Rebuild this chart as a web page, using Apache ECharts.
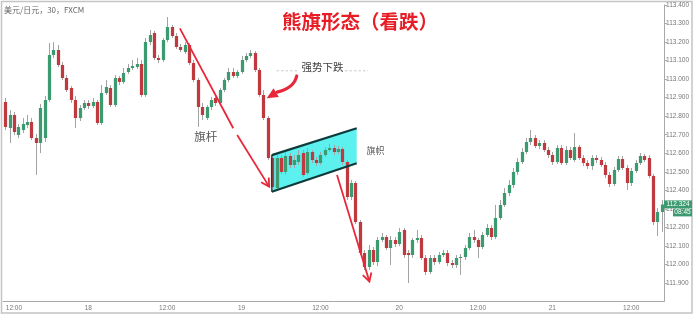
<!DOCTYPE html>
<html><head><meta charset="utf-8">
<script src="https://cdn.jsdelivr.net/npm/echarts@6/dist/echarts.min.js"></script>
<style>html,body{margin:0;padding:0;background:#fff}#c{width:696px;height:315px}</style>
</head><body><div id="c"></div>
<script>
const openPrices=[
112.877,112.736,112.806,112.698,112.725,112.752,112.769,112.682,112.655,112.682,
112.887,113.130,113.157,113.076,113.006,112.952,112.887,112.790,112.844,112.871,
112.855,112.877,112.763,112.925,112.952,112.860,113.006,112.984,113.038,113.060,
113.065,113.082,112.914,113.200,113.249,113.114,113.103,113.211,113.281,113.233,
113.173,113.146,113.184,113.087,112.995,112.850,112.790,112.850,112.898,112.871,
112.941,112.995,113.038,113.017,113.038,113.103,113.125,113.141,113.049,112.914,
112.790,112.574,112.412,112.574,112.499,112.585,112.537,112.553,112.601,112.493,
112.607,112.564,112.547,112.590,112.617,112.628,112.607,112.623,112.553,112.364,
112.439,112.229,112.062,111.986,112.078,112.013,112.132,112.148,112.089,112.132,
112.110,112.186,112.062,112.051,112.132,112.143,112.035,111.959,112.035,112.013,
112.051,112.062,112.008,111.997,112.035,112.040,112.089,112.148,112.132,112.094,
112.159,112.197,112.148,112.251,112.321,112.385,112.429,112.499,112.553,112.607,
112.661,112.682,112.639,112.655,112.617,112.590,112.553,112.628,112.547,112.617,
112.564,112.634,112.574,112.547,112.531,112.574,112.564,112.537,112.483,112.434,
112.510,112.569,112.520,112.439,112.504,112.547,112.585,112.574,112.477,112.229,112.283];
const closePrices=[
112.742,112.806,112.715,112.742,112.758,112.769,112.682,112.655,112.844,112.887,
113.130,113.157,113.076,113.006,112.941,112.887,112.790,112.844,112.871,112.855,
112.877,112.763,112.925,112.958,112.860,113.006,112.984,113.033,113.060,113.071,
113.082,112.914,113.200,113.238,113.114,113.103,113.211,113.281,113.233,113.173,
113.157,113.184,113.087,112.995,112.850,112.806,112.850,112.887,112.871,112.941,
112.995,113.038,113.017,113.038,113.103,113.125,113.141,113.049,112.914,112.790,
112.574,112.418,112.574,112.499,112.585,112.537,112.564,112.590,112.483,112.607,
112.564,112.547,112.590,112.617,112.628,112.607,112.623,112.553,112.364,112.439,
112.229,112.062,111.986,112.078,112.013,112.132,112.148,112.089,112.132,112.110,
112.175,112.051,112.051,112.132,112.143,112.035,111.959,112.035,112.013,112.051,
112.062,112.008,111.997,112.035,112.040,112.089,112.148,112.132,112.094,112.159,
112.197,112.148,112.251,112.321,112.385,112.429,112.499,112.553,112.607,112.661,
112.682,112.639,112.655,112.617,112.590,112.553,112.628,112.547,112.617,112.574,
112.634,112.574,112.547,112.531,112.574,112.564,112.537,112.483,112.434,112.510,
112.569,112.520,112.439,112.504,112.547,112.585,112.564,112.477,112.229,112.283,112.324];
const lowPrices=[
112.725,112.655,112.698,112.682,112.709,112.736,112.671,112.483,112.601,112.661,
112.877,113.114,113.065,112.995,112.930,112.871,112.736,112.774,112.833,112.839,
112.844,112.752,112.752,112.914,112.850,112.850,112.968,112.974,113.028,113.049,
113.055,112.904,112.904,113.184,113.103,113.087,113.092,113.200,113.222,113.163,
113.146,113.136,113.076,112.984,112.742,112.779,112.779,112.833,112.855,112.860,
112.930,112.984,113.006,113.006,113.028,113.092,113.114,113.038,112.904,112.779,
112.564,112.402,112.402,112.488,112.483,112.520,112.520,112.537,112.472,112.483,
112.547,112.531,112.537,112.580,112.607,112.590,112.596,112.537,112.348,112.348,
112.218,112.051,111.970,111.970,111.997,111.991,112.121,112.078,111.997,112.094,
112.099,112.035,111.900,112.035,112.116,112.024,111.943,111.948,111.997,112.002,
112.040,111.991,111.981,111.981,111.943,112.024,112.078,112.116,112.035,112.083,
112.148,112.132,112.137,112.240,112.310,112.369,112.412,112.483,112.542,112.596,
112.644,112.628,112.623,112.607,112.574,112.537,112.542,112.537,112.537,112.564,
112.553,112.564,112.531,112.515,112.510,112.547,112.526,112.466,112.418,112.423,
112.499,112.510,112.402,112.423,112.493,112.537,112.553,112.466,112.213,112.153,112.175];
const highPrices=[
112.898,112.833,112.823,112.758,112.790,112.806,112.790,112.704,112.866,112.909,
113.195,113.200,113.184,113.092,113.022,112.963,112.909,112.860,112.887,112.887,
112.898,112.887,112.968,112.995,112.968,113.022,113.017,113.060,113.082,113.103,
113.114,113.103,113.222,113.265,113.260,113.130,113.222,113.335,113.292,113.249,
113.190,113.200,113.195,113.103,113.006,112.871,112.860,112.904,112.914,112.952,
113.006,113.060,113.060,113.049,113.125,113.141,113.157,113.152,113.060,112.941,
112.801,112.585,112.590,112.590,112.607,112.601,112.590,112.617,112.617,112.628,
112.617,112.580,112.607,112.634,112.650,112.644,112.639,112.634,112.564,112.456,
112.450,112.240,112.078,112.105,112.094,112.148,112.170,112.159,112.153,112.148,
112.197,112.197,112.078,112.143,112.186,112.159,112.051,112.051,112.051,112.067,
112.078,112.078,112.024,112.051,112.056,112.105,112.170,112.186,112.143,112.175,
112.218,112.213,112.321,112.348,112.412,112.456,112.520,112.574,112.628,112.682,
112.725,112.698,112.671,112.671,112.634,112.607,112.644,112.644,112.639,112.634,
112.709,112.644,112.590,112.564,112.590,112.590,112.580,112.553,112.499,112.526,
112.585,112.585,112.537,112.520,112.564,112.601,112.596,112.590,112.488,112.304,112.348];
const categories = openPrices.map((_, i) => String(i + 1));
const tickIndex = [2, 19, 37, 54, 72, 90, 108, 125, 143];
const tickLabels = ['12:00', '18', '12:00', '19', '12:00', '20', '12:00', '21', '12:00'];
const lastPrice = 112.324, lastTime = '08:45';

// annotation anchors in (bar index, price)
const poleArrowA = [[39.9, 113.274], [52.1, 112.735]];
const poleArrowB = [[53.0, 112.698], [60.3, 112.420]];
const dropArrow = [[75.8, 112.483], [83.2, 111.908]];
const flagBox = [[60.9, 112.590], [80.3, 112.735], [80.3, 112.546], [60.9, 112.392]];
const curveArrow = [[66.6, 113.017], [66.0, 112.952], [62.1, 112.930], [59.75, 112.897]];
const dashLeft = [[62.0, 113.045], [66.9, 113.045]];
const dashRight = [[76.6, 113.045], [82.9, 113.045]];
const strongText = [72.5, 113.065];
const poleText = [45.8, 112.690];
const flagText = [84.6, 112.616];

const UP = '#3b9a6f', DOWN = '#bf3a3e', WICK = '#a3a3a3', RED = '#e8283a';
const FONT = '"Noto Sans CJK SC", "Noto Sans", sans-serif';

const chart = echarts.init(document.getElementById('c'), null, {renderer: 'canvas'});
const data = categories.map((c, i) => [i, openPrices[i], closePrices[i], lowPrices[i], highPrices[i]]);

function renderCandle(params, api) {
  const i = api.value(0);
  const o = api.coord([i, api.value(1)]), c = api.coord([i, api.value(2)]);
  const l = api.coord([i, api.value(3)]), h = api.coord([i, api.value(4)]);
  const w = api.size([1, 0])[0] * 0.74;
  const up = api.value(2) >= api.value(1);
  const top = Math.min(o[1], c[1]);
  const bh = Math.max(Math.abs(o[1] - c[1]), 1);
  const xc = Math.round(o[0]) + 0.5;
  return {type: 'group', children: [
    {type: 'line', shape: {x1: xc, y1: h[1], x2: xc, y2: l[1]}, style: {stroke: WICK, lineWidth: 1}},
    {type: 'rect', shape: {x: xc - w / 2, y: top, width: w, height: bh}, style: {fill: up ? UP : DOWN}}
  ]};
}

chart.setOption({
  animation: false,
  grid: {left: 3, right: 32, top: 5, bottom: 13.5},
  xAxis: {
    type: 'category', data: categories, boundaryGap: true,
    axisLine: {lineStyle: {color: '#a8a8a8'}},
    axisTick: {interval: (i) => tickIndex.includes(i), alignWithLabel: true, length: 3, lineStyle: {color: '#aaa'}},
    axisLabel: {interval: (i) => tickIndex.includes(i), formatter: (v, i) => tickLabels[tickIndex.indexOf(i)] || '',
      fontSize: 6.5, color: '#777', margin: 3, fontFamily: 'Arial'},
    splitLine: {show: false}
  },
  yAxis: {
    type: 'value', position: 'right', min: 111.8, max: 113.4, interval: 0.1,
    axisLine: {show: true, lineStyle: {color: '#a8a8a8'}},
    axisTick: {show: true, length: 3, lineStyle: {color: '#aaa'}},
    axisLabel: {fontSize: 6.5, color: '#777', margin: 2, fontFamily: 'Arial',
      formatter: (v) => v.toFixed(3), showMinLabel: false},
    splitLine: {show: false}
  },
  series: [{type: 'custom', renderItem: renderCandle, data: data, encode: {x: 0, y: [1, 2, 3, 4]}, z: 5, clip: true}]
});

// annotations positioned through the chart's own scales
const a0 = chart.convertToPixel({xAxisIndex: 0, yAxisIndex: 0}, [0, 112]);
const a1 = chart.convertToPixel({xAxisIndex: 0, yAxisIndex: 0}, [1, 112]);
const dx = a1[0] - a0[0];
const X = (i) => a0[0] + i * dx;
const Y = (v) => chart.convertToPixel({xAxisIndex: 0, yAxisIndex: 0}, [0, v])[1];
const P = (pt) => [X(pt[0]), Y(pt[1])];

function vHead(tip, from, len, half, color, width) {
  const vx = tip[0] - from[0], vy = tip[1] - from[1];
  const d = Math.hypot(vx, vy), ux = vx / d, uy = vy / d;
  const bx = tip[0] - ux * len, by = tip[1] - uy * len;
  return {type: 'polyline', z: 100, shape: {points: [[bx - uy * half, by + ux * half], tip, [bx + uy * half, by - ux * half]]},
    style: {stroke: color, lineWidth: width, fill: null}};
}

const els = [];
// frame
els.push({type: 'rect', z: 0, shape: {x: 1.5, y: 1.5, width: 690.5, height: 311.5}, style: {fill: null, stroke: '#c4c4c4', lineWidth: 1.5}, silent: true});
// flag channel
const fb = flagBox.map(P);
els.push({type: 'polygon', z: 1, shape: {points: fb}, style: {fill: '#5cf0ee', stroke: null}});
els.push({type: 'line', z: 6, shape: {x1: fb[0][0], y1: fb[0][1], x2: fb[1][0], y2: fb[1][1]}, style: {stroke: '#0e3a3a', lineWidth: 2.2}});
els.push({type: 'line', z: 6, shape: {x1: fb[3][0], y1: fb[3][1], x2: fb[2][0], y2: fb[2][1]}, style: {stroke: '#0e3a3a', lineWidth: 2.2}});
els.push({type: 'line', z: 6, shape: {x1: fb[0][0], y1: fb[0][1], x2: fb[3][0], y2: fb[3][1]}, style: {stroke: '#0e3a3a', lineWidth: 1.2}});
// flagpole arrow
const pa = poleArrowA.map(P), pb = poleArrowB.map(P);
els.push({type: 'line', z: 100, shape: {x1: pa[0][0], y1: pa[0][1], x2: pa[1][0], y2: pa[1][1]}, style: {stroke: RED, lineWidth: 1.8}});
els.push({type: 'line', z: 100, shape: {x1: pb[0][0], y1: pb[0][1], x2: pb[1][0], y2: pb[1][1]}, style: {stroke: RED, lineWidth: 1.8}});
els.push(vHead(pb[1], pb[0], 8, 4.5, RED, 1.8));
// drop arrow
const da = dropArrow.map(P);
els.push({type: 'line', z: 100, shape: {x1: da[0][0], y1: da[0][1], x2: da[1][0], y2: da[1][1]}, style: {stroke: RED, lineWidth: 1.8}});
els.push(vHead(da[1], da[0], 8, 4.5, RED, 1.8));
// curved arrow
const ca = curveArrow.map(P);
els.push({type: 'bezierCurve', z: 100, shape: {x1: ca[0][0], y1: ca[0][1], cpx1: ca[1][0], cpy1: ca[1][1], x2: ca[2][0], y2: ca[2][1]},
  style: {stroke: RED, lineWidth: 3.2, fill: null, lineCap: 'round'}});
{
  const tip = ca[3], from = ca[2];
  const vx = tip[0] - from[0], vy = tip[1] - from[1];
  const d = Math.hypot(vx, vy), ux = vx / d, uy = vy / d;
  const bx = from[0] + ux * 1, by = from[1] + uy * 1;
  const half = 5.2;
  els.push({type: 'polygon', z: 100, shape: {points: [[bx - uy * half, by + ux * half], tip, [bx + uy * half, by - ux * half]]}, style: {fill: RED}});
}
// dashed guide lines and labels
[dashLeft, dashRight].forEach((seg) => {
  const s = seg.map(P);
  els.push({type: 'line', z: 100, shape: {x1: s[0][0], y1: s[0][1], x2: s[1][0], y2: s[1][1]}, style: {stroke: '#c8c8c8', lineWidth: 1, lineDash: [2.5, 2]}});
});
const st = P(strongText), pt = P(poleText), ft = P(flagText);
els.push({type: 'text', z: 100, x: st[0], y: st[1], style: {text: '强势下跌', font: '10.5px ' + FONT, fill: '#444', align: 'center', verticalAlign: 'middle'}});
els.push({type: 'text', z: 100, x: pt[0], y: pt[1], style: {text: '旗杆', font: '11.5px ' + FONT, fill: '#555', align: 'center', verticalAlign: 'middle'}});
els.push({type: 'text', z: 100, x: ft[0], y: ft[1], style: {text: '旗帜', font: '9px ' + FONT, fill: '#555', align: 'center', verticalAlign: 'middle'}});
// title and instrument label
els.push({type: 'text', z: 100, x: 360, y: 22, style: {text: '熊旗形态（看跌）', font: 'bold 19.5px ' + FONT, fill: '#e81c25', align: 'center', verticalAlign: 'middle'}});
els.push({type: 'text', z: 100, x: 4, y: 10, style: {text: '美元/日元，30，FXCM', font: '8px ' + FONT, fill: '#666', align: 'left', verticalAlign: 'middle'}});
// last price tag
const gx = X(categories.length - 0.5);
const ly = Y(lastPrice);
els.push({type: 'rect', z: 100, shape: {x: gx, y: ly - 4, width: 28, height: 8}, style: {fill: '#3b9a6f'}});
els.push({type: 'text', z: 101, x: gx + 14, y: ly, style: {text: lastPrice.toFixed(3), font: '6.5px Arial', fill: '#fff', align: 'center', verticalAlign: 'middle'}});
els.push({type: 'rect', z: 100, shape: {x: gx + 9, y: ly + 4.5, width: 19, height: 7.5}, style: {fill: '#3b9a6f'}});
els.push({type: 'text', z: 101, x: gx + 18.5, y: ly + 8.3, style: {text: lastTime, font: '6.5px Arial', fill: '#fff', align: 'center', verticalAlign: 'middle'}});

chart.setOption({graphic: {elements: els}});
</script></body></html>
